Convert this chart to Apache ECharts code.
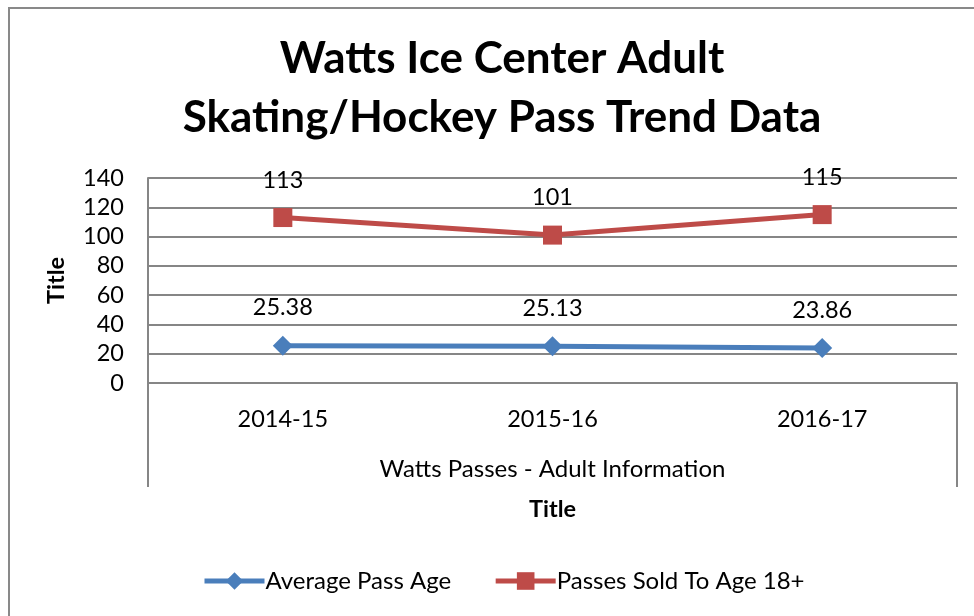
<!DOCTYPE html>
<html><head><meta charset="utf-8">
<script src="https://cdn.jsdelivr.net/npm/echarts@6/dist/echarts.min.js"></script>
<style>html,body{margin:0;padding:0;background:#fff}#c{width:974px;height:616px}</style>
</head><body><div id="c"></div>
<script>
const categories = ['2014-15', '2015-16', '2016-17'];
const groupLabel = ['Watts Passes - Adult Information'];
const avgPassAge = [25.38, 25.13, 23.86];
const passesSold = [113, 101, 115];
const seriesNames = ['Average Pass Age', 'Passes Sold To Age 18+'];
const titleText = 'Watts Ice Center Adult\nSkating/Hockey Pass Trend Data';

const FONT = 'Lato';
const FS = 23.5;
const chart = echarts.init(document.getElementById('c'));
chart.setOption({
  animation: false,
  textStyle: { fontFamily: FONT },
  graphic: [{
    type: 'rect', shape: { x: 9, y: 8, width: 1000, height: 700 },
    style: { fill: 'none', stroke: '#898989', lineWidth: 2 }, silent: true
  }],
  title: {
    text: titleText, left: 497, top: 24, textAlign: 'center',
    textStyle: { fontFamily: FONT, fontWeight: 'bold', fontSize: 44, lineHeight: 59, color: '#000' }
  },
  grid: { left: 148, right: 17, top: 178, bottom: 233 },
  legend: {
    bottom: 18, left: 197, itemWidth: 60, itemHeight: 22, itemGap: 42,
    lineStyle: { width: 5 },
    textStyle: { fontFamily: FONT, fontSize: 24, color: '#000', padding: [0, 0, 0, -4] },
    data: seriesNames
  },
  xAxis: [{
    type: 'category', data: categories, boundaryGap: true,
    axisLine: { show: true, lineStyle: { color: '#868686', width: 2 } },
    axisTick: { show: false },
    axisLabel: { fontFamily: FONT, fontSize: FS, color: '#000', margin: 24 }
  }, {
    type: 'category', data: groupLabel, position: 'bottom', boundaryGap: true,
    axisLine: { show: false },
    axisTick: { show: true, length: 104, lineStyle: { color: '#868686', width: 2 } },
    axisLabel: { fontFamily: FONT, fontSize: 24, color: '#000', margin: 74 },
    name: 'Title', nameLocation: 'middle', nameGap: 114,
    nameTextStyle: { fontFamily: FONT, fontSize: FS, fontWeight: 'bold', color: '#000' }
  }],
  yAxis: {
    type: 'value', min: 0, max: 140, interval: 20,
    axisLine: { show: true, lineStyle: { color: '#868686', width: 2 } },
    axisTick: { show: false },
    splitLine: { lineStyle: { color: '#868686', width: 2 } },
    axisLabel: { fontFamily: FONT, fontSize: FS, color: '#000', margin: 24 },
    name: 'Title', nameLocation: 'middle', nameGap: 80, nameRotate: 90,
    nameTextStyle: { fontFamily: FONT, fontSize: FS, fontWeight: 'bold', color: '#000' }
  },
  series: [{
    name: seriesNames[0], type: 'line', data: avgPassAge, xAxisIndex: 0,
    symbol: 'diamond', symbolSize: 20,
    lineStyle: { color: '#4a7ebb', width: 5 },
    itemStyle: { color: '#4a7ebb' },
    label: { show: true, position: 'top', distance: 16, fontFamily: FONT, fontSize: FS, color: '#000' }
  }, {
    name: seriesNames[1], type: 'line', data: passesSold, xAxisIndex: 0,
    symbol: 'rect', symbolSize: 19,
    lineStyle: { color: '#be4b48', width: 5 },
    itemStyle: { color: '#be4b48' },
    label: { show: true, position: 'top', distance: 16, fontFamily: FONT, fontSize: FS, color: '#000' }
  }]
});
</script></body></html>
